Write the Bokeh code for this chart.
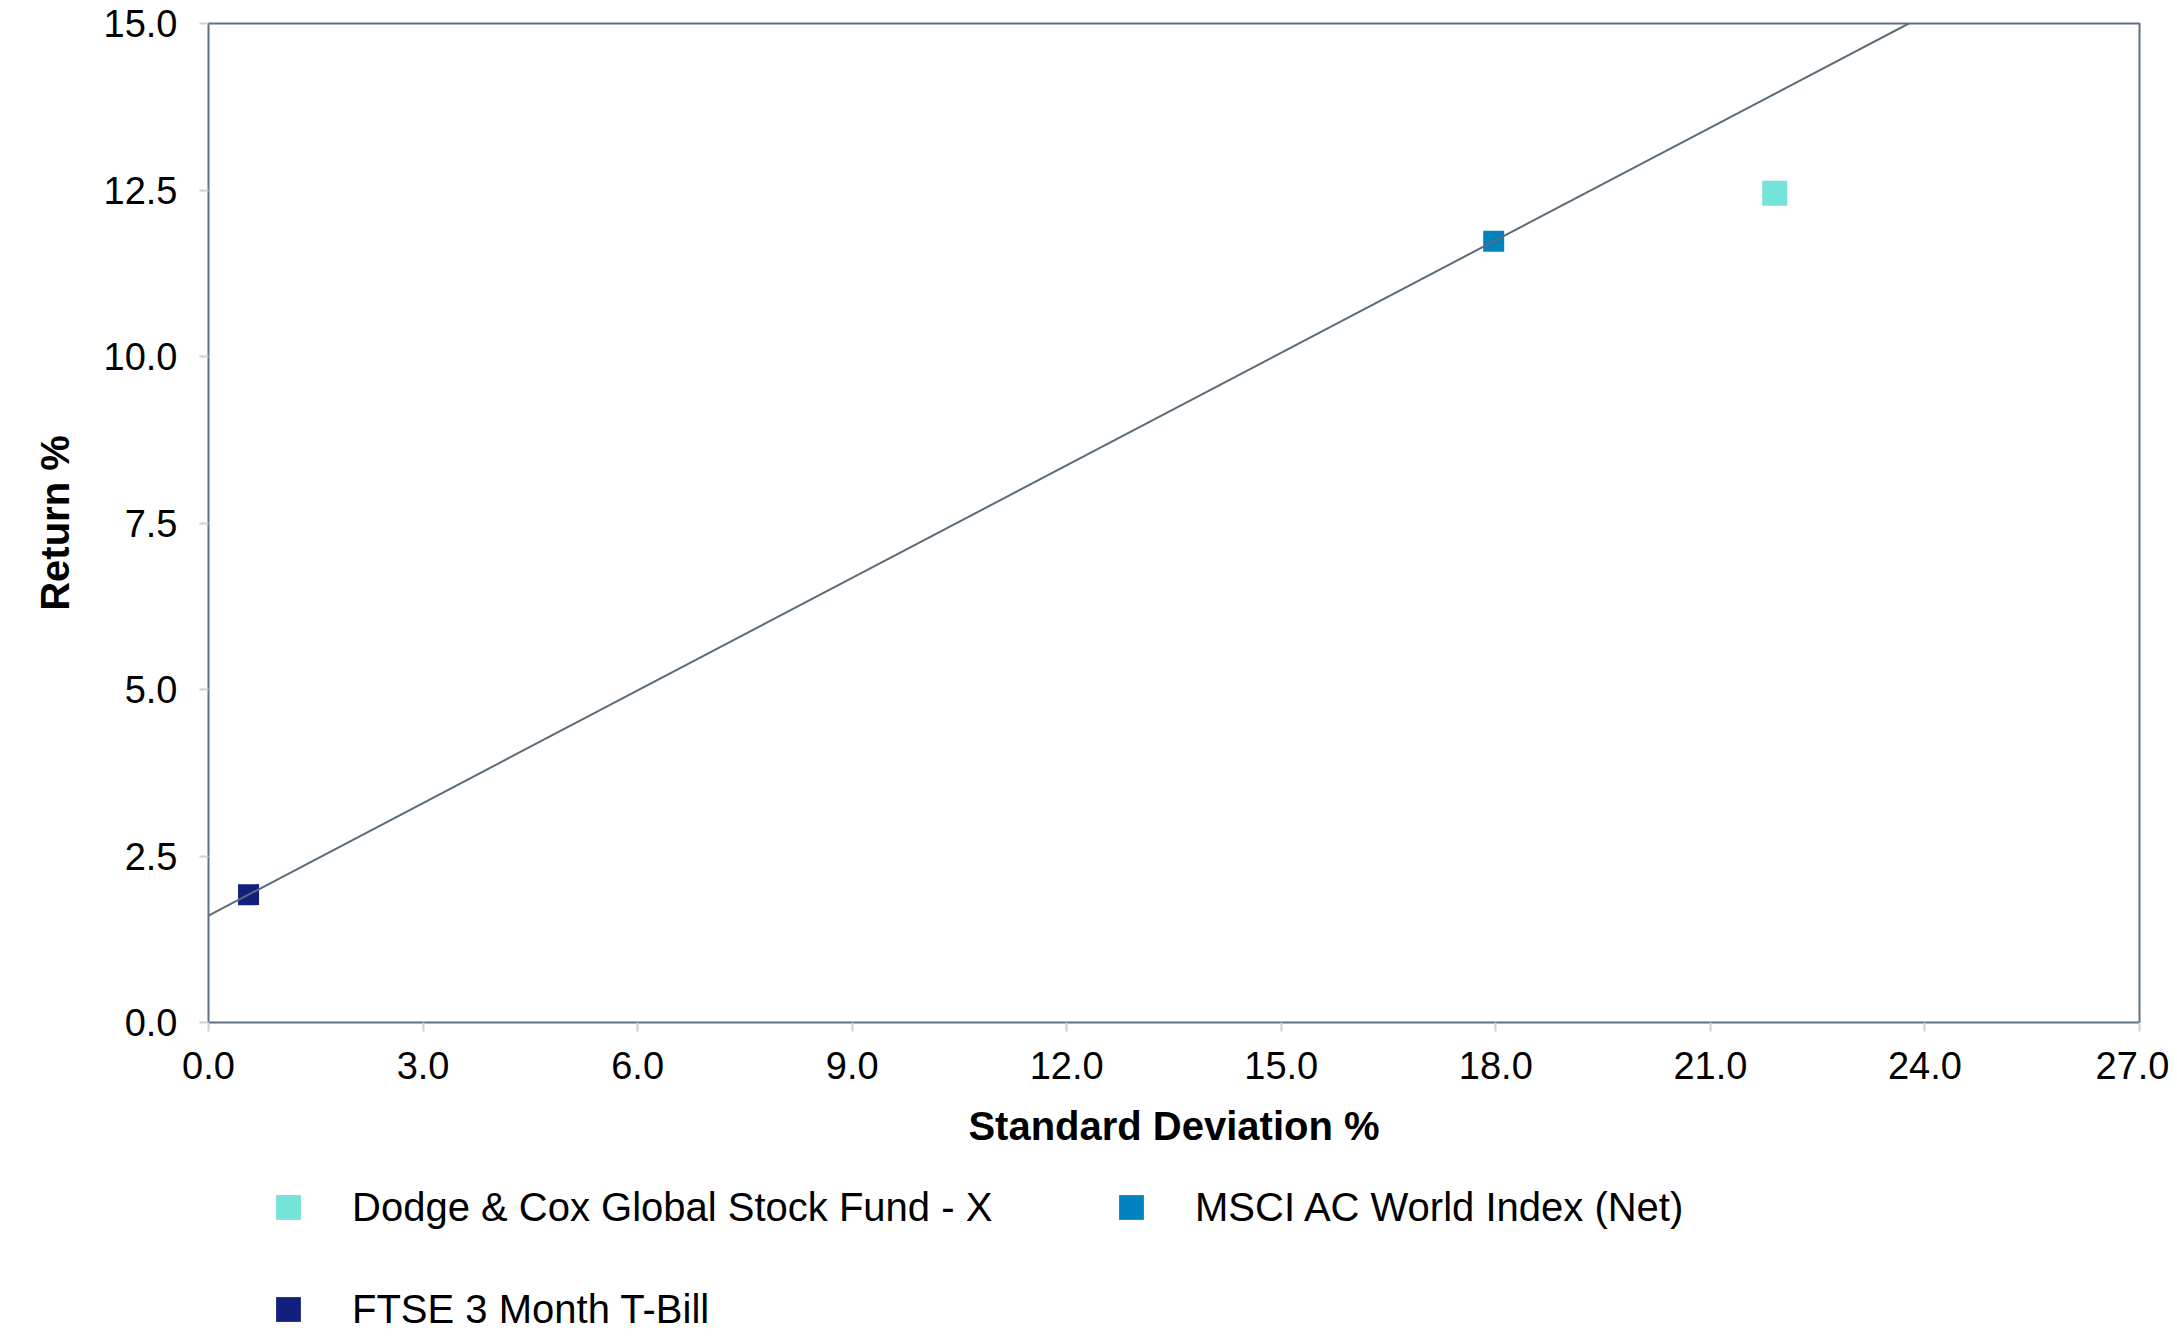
from bokeh.plotting import figure
from bokeh.layouts import column
from bokeh.models import (Range1d, FixedTicker, NumeralTickFormatter, Legend, LegendItem,
                          Slope, ColumnDataSource)
from bokeh.embed import file_html
from bokeh.resources import INLINE

# ---- data ----
names = ["Dodge & Cox Global Stock Fund - X", "MSCI AC World Index (Net)", "FTSE 3 Month T-Bill"]
std_dev = [21.90, 17.97, 0.56]
returns = [12.45, 11.73, 1.92]
colors = ["#74E3D9", "#0083BE", "#131F7E"]
marker_sizes = [25, 21, 21]

x_ticks = [0, 3, 6, 9, 12, 15, 18, 21, 24, 27]
y_ticks = [0, 2.5, 5, 7.5, 10, 12.5, 15]

FONT = "Liberation Sans"
W = 2169
H_MAIN = 1156
H_LEG = 174

p = figure(width=W, height=H_MAIN, output_backend="svg", toolbar_location=None,
           x_range=Range1d(0, 27), y_range=Range1d(0, 15),
           x_axis_label="Standard Deviation %", y_axis_label="Return %",
           min_border_left=208, min_border_right=30, min_border_top=23, min_border_bottom=134)

p.xgrid.visible = False
p.ygrid.visible = False
p.outline_line_color = "#5F7080"
p.outline_line_width = 2
p.background_fill_color = "white"
p.border_fill_color = "white"

for ax, ticks in ((p.xaxis[0], x_ticks), (p.yaxis[0], y_ticks)):
    ax.ticker = FixedTicker(ticks=ticks)
    ax.formatter = NumeralTickFormatter(format="0.0")
    ax.axis_line_color = None
    ax.major_tick_line_color = "#D0D0D0"
    ax.major_tick_line_width = 2
    ax.major_tick_in = 0
    ax.major_tick_out = 9
    ax.minor_tick_line_color = None
    ax.major_label_text_font = FONT
    ax.major_label_text_font_size = "38px"
    ax.major_label_text_color = "black"
    ax.axis_label_text_font = FONT
    ax.axis_label_text_font_size = "40px"
    ax.axis_label_text_font_style = "bold"
    ax.axis_label_text_color = "black"

p.xaxis[0].major_label_standoff = 20
p.xaxis[0].axis_label_standoff = 22
p.yaxis[0].major_label_standoff = 22
p.yaxis[0].axis_label_standoff = 24

# capital market line through risk-free (T-Bill) and market (MSCI)
grad = (returns[1] - returns[2]) / (std_dev[1] - std_dev[2])
intercept = returns[2] - grad * std_dev[2]
p.add_layout(Slope(gradient=grad, y_intercept=intercept, line_color="#5B6C79", line_width=2))

for i in range(len(names)):
    src = ColumnDataSource(dict(x=[std_dev[i]], y=[returns[i]]))
    p.scatter("x", "y", source=src, marker="square", size=marker_sizes[i],
              fill_color=colors[i], line_color=None)

# ---- legend strip below the chart ----
pl = figure(width=W, height=H_LEG, output_backend="svg", toolbar_location=None,
            x_range=Range1d(0, 27), y_range=Range1d(0, 15),
            min_border_left=208, min_border_right=30, min_border_top=0, min_border_bottom=0)
pl.axis.visible = False
pl.xgrid.visible = False
pl.ygrid.visible = False
pl.outline_line_color = None
pl.border_fill_color = "white"
pl.background_fill_color = "white"

items = []
for i in range(len(names)):
    src = ColumnDataSource(dict(x=[std_dev[i]], y=[returns[i]]))
    r = pl.scatter("x", "y", source=src, marker="square", size=marker_sizes[i],
                   fill_color=colors[i], line_color=None, visible=False)
    items.append(LegendItem(label=names[i], renderers=[r]))

legend = Legend(items=items, location=(49, -10), orientation="horizontal", ncols=2,
                glyph_width=62, glyph_height=62, label_standoff=33, label_width=708,
                label_height=62, spacing=40, padding=0, margin=0,
                border_line_color=None, background_fill_alpha=0,
                label_text_font=FONT, label_text_font_size="40px", label_text_color="black")
pl.add_layout(legend, "center")

open("out.html", "w").write(file_html(column(p, pl, spacing=0), INLINE))
